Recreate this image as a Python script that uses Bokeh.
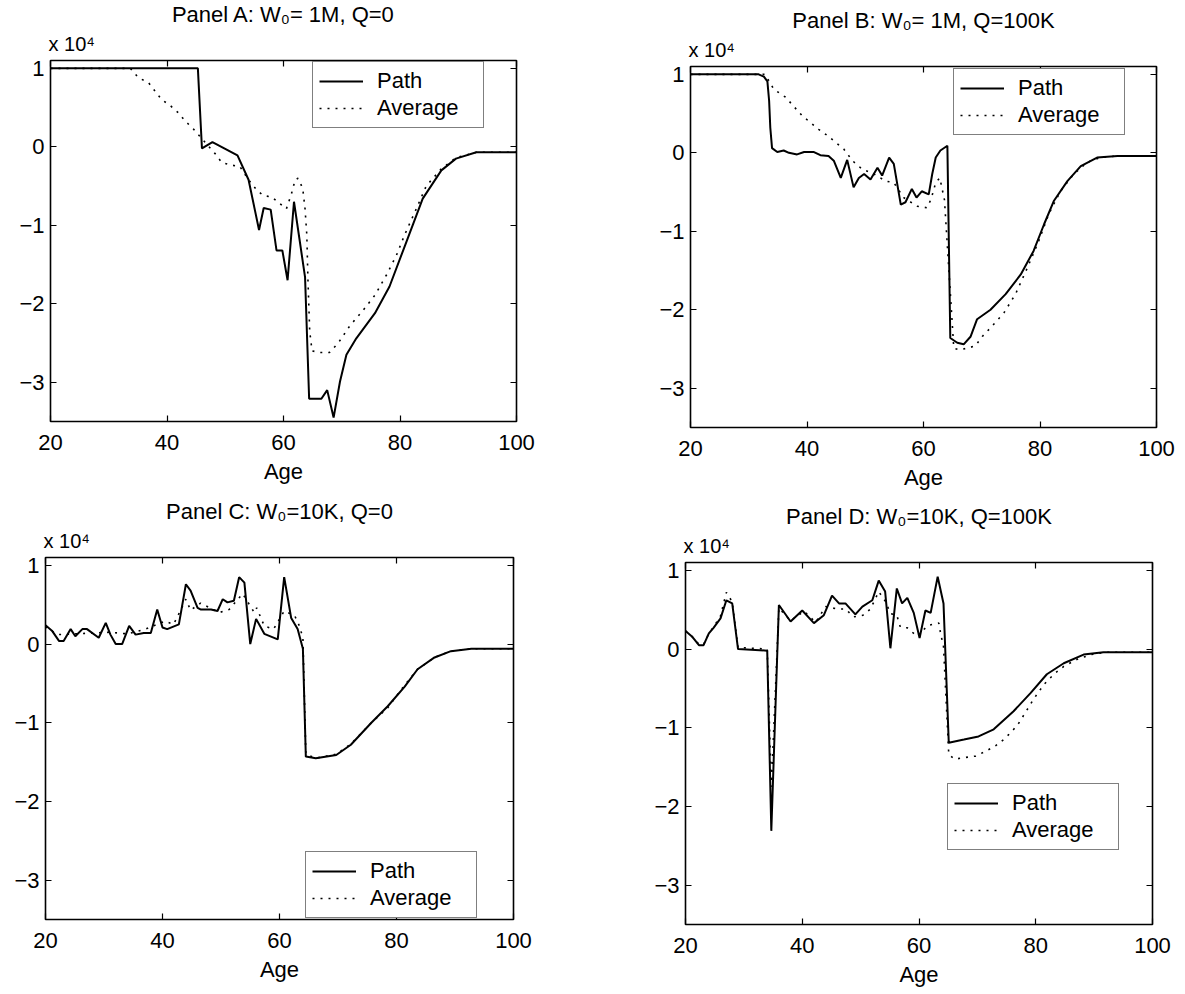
from bokeh.plotting import figure
from bokeh.layouts import row, column
from bokeh.models import Legend, LegendItem, LinearAxis, FixedTicker, Range1d, Title
from bokeh.embed import file_html
from bokeh.resources import INLINE

FONT = "Liberation Sans"

x_ticks = [20, 40, 60, 80, 100]
y_ticks = [-3, -2, -1, 0, 1]
y_tick_labels = {-3: "\u22123", -2: "\u22122", -1: "\u22121", 0: "0", 1: "1"}
x_label = "Age"
scale_label = "x 10\u2074"
series_names = ["Path", "Average"]

titles = ["Panel A: W\u2080= 1M, Q=0", "Panel B: W\u2080= 1M, Q=100K",
          "Panel C: W\u2080=10K, Q=0", "Panel D: W\u2080=10K, Q=100K"]

# ---- Panel A (values in units of 10^4) ----
a_path_age = [20, 45.3, 46.0, 47.8, 49.1, 52.1, 54.0, 55.8, 56.6, 57.8, 58.8, 59.8, 60.7, 61.8, 63.7,
              64.4, 66.5, 67.5, 68.6, 69.7, 70.8, 72.5, 75.7, 78.2, 81.1, 83.9, 87.1, 89.6, 93.1, 100]
a_path_val = [1.0, 1.0, -0.02, 0.06, 0.01, -0.11, -0.42, -1.06, -0.78, -0.80, -1.32, -1.32, -1.70, -0.70, -1.66,
              -3.21, -3.21, -3.10, -3.45, -2.99, -2.65, -2.44, -2.12, -1.78, -1.21, -0.66, -0.30, -0.15, -0.07, -0.07]
a_avg_age = [20, 33.7, 35.1, 36.8, 39.1, 40.5, 42.0, 43.1, 44.5, 48.3, 49.4, 50.8, 52.5, 54.0, 55.4,
             56.5, 58.0, 59.3, 60.5, 61.4, 62.0, 62.5, 63.3, 63.7, 64.0, 64.2, 64.5, 64.9, 66.2, 67.9,
             69.4, 71.4, 73.7, 75.7, 77.7, 79.4, 80.8, 82.8, 84.5, 87.1, 89.6, 93.1, 100]
a_avg_val = [1.0, 1.0, 0.88, 0.82, 0.60, 0.53, 0.43, 0.33, 0.23, -0.09, -0.20, -0.23, -0.25, -0.42, -0.55,
             -0.62, -0.64, -0.72, -0.79, -0.59, -0.42, -0.40, -0.53, -0.79, -1.12, -1.70, -2.35, -2.60, -2.62, -2.62,
             -2.50, -2.28, -2.08, -1.89, -1.63, -1.38, -1.12, -0.79, -0.50, -0.28, -0.14, -0.07, -0.07]

# ---- Panel B ----
b_path_age = [20, 31.7, 32.6, 33.2, 33.5, 33.7, 34.0, 34.9, 36.0, 36.9, 38.3, 39.5, 41.2, 42.3, 43.7,
              44.6, 45.8, 46.9, 48.0, 48.9, 49.8, 50.9, 52.1, 52.9, 54.1, 54.9, 56.1, 56.9, 58.0, 58.8,
              59.7, 60.9, 61.5, 62.1, 62.9, 64.1, 64.6, 65.8, 66.9, 68.1, 69.2, 71.5, 74.1, 76.7, 78.9,
              80.7, 82.4, 84.7, 87.0, 89.8, 93.3, 100]
b_path_val = [1.0, 1.0, 0.97, 0.91, 0.66, 0.32, 0.06, 0.01, 0.03, 0.0, -0.02, 0.01, 0.01, -0.03, -0.04,
              -0.10, -0.32, -0.09, -0.44, -0.32, -0.27, -0.34, -0.19, -0.29, -0.06, -0.14, -0.66, -0.63, -0.46, -0.57,
              -0.49, -0.53, -0.27, -0.06, 0.03, 0.09, -2.36, -2.42, -2.44, -2.34, -2.12, -2.00, -1.80, -1.55, -1.25,
              -0.91, -0.61, -0.36, -0.17, -0.06, -0.04, -0.04]
b_avg_age = [20, 32.8, 34.3, 36.3, 39.2, 42.0, 43.5, 46.3, 47.8, 49.5, 51.5, 53.5, 54.9, 56.6, 58.9,
             60.6, 61.3, 62.1, 62.8, 63.6, 65.2, 66.1, 67.5, 68.9, 70.1, 71.5, 73.8, 75.8, 77.8, 79.8,
             81.5, 83.5, 85.8, 88.1, 90.4, 93.3, 100]
b_avg_val = [1.0, 1.0, 0.81, 0.71, 0.47, 0.30, 0.22, 0.05, -0.10, -0.21, -0.27, -0.36, -0.38, -0.57, -0.68,
             -0.70, -0.59, -0.38, -0.32, -0.60, -2.49, -2.51, -2.49, -2.46, -2.34, -2.23, -2.04, -1.80, -1.47, -1.12,
             -0.78, -0.49, -0.27, -0.12, -0.06, -0.04, -0.04]

# ---- Panel C ----
c_path_age = [20, 21.1, 22.3, 23.1, 24.3, 25.1, 26.3, 27.1, 29.1, 30.3, 31.1, 32.0, 33.1, 34.3, 35.4,
              36.8, 38.0, 39.1, 40.0, 40.8, 42.8, 44.0, 44.8, 46.0, 46.5, 48.3, 49.4, 50.3, 51.1, 52.2,
              53.1, 54.0, 55.0, 56.0, 57.4, 59.7, 60.8, 62.0, 63.1, 64.0, 64.5, 66.2, 69.7, 72.2, 75.7,
              78.5, 81.4, 83.6, 86.5, 89.3, 92.8, 100]
c_path_val = [0.24, 0.17, 0.04, 0.04, 0.19, 0.10, 0.19, 0.19, 0.08, 0.27, 0.12, 0.0, 0.0, 0.23, 0.12,
              0.14, 0.14, 0.44, 0.21, 0.19, 0.25, 0.76, 0.68, 0.46, 0.44, 0.44, 0.42, 0.57, 0.53, 0.55,
              0.85, 0.78, 0.0, 0.32, 0.13, 0.06, 0.85, 0.33, 0.19, -0.06, -1.43, -1.45, -1.41, -1.28, -1.00,
              -0.79, -0.54, -0.32, -0.17, -0.09, -0.06, -0.06]
c_avg_age = [20, 22.0, 25.0, 28.0, 31.0, 34.0, 37.1, 40.4, 41.9, 44.0, 44.8, 46.5, 49.7, 51.4, 53.7,
             55.7, 56.1, 57.4, 59.0, 60.8, 62.6, 63.4, 64.0, 64.5, 66.2, 69.7, 72.2, 75.7, 78.5, 81.4,
             83.6, 86.5, 89.3, 92.8, 100]
c_avg_val = [0.22, 0.12, 0.13, 0.14, 0.15, 0.13, 0.19, 0.29, 0.25, 0.57, 0.43, 0.52, 0.40, 0.44, 0.64,
             0.40, 0.46, 0.23, 0.19, 0.42, 0.36, 0.23, 0.08, -1.40, -1.45, -1.40, -1.27, -1.00, -0.81, -0.52,
             -0.32, -0.17, -0.09, -0.06, -0.06]

# ---- Panel D ----
d_path_age = [20, 21.1, 22.3, 23.1, 24.0, 24.8, 26.0, 27.0, 28.0, 29.0, 34.0, 34.7, 36.0, 38.0, 40.0,
              42.0, 43.7, 45.1, 46.3, 47.4, 49.1, 50.3, 52.0, 53.1, 54.2, 55.1, 56.2, 57.1, 58.0, 59.1,
              60.1, 61.1, 62.0, 63.2, 64.2, 65.1, 67.7, 70.2, 72.8, 76.2, 79.1, 81.9, 84.8, 88.2, 91.6, 100]
d_path_val = [0.23, 0.16, 0.05, 0.05, 0.20, 0.27, 0.39, 0.62, 0.58, 0.0, -0.02, -2.31, 0.56, 0.35, 0.49,
              0.33, 0.43, 0.68, 0.58, 0.58, 0.44, 0.54, 0.62, 0.87, 0.73, 0.01, 0.77, 0.58, 0.65, 0.46,
              0.14, 0.49, 0.46, 0.92, 0.58, -1.19, -1.15, -1.11, -1.02, -0.79, -0.56, -0.32, -0.18, -0.07, -0.04, -0.04]
d_avg_age = [20, 21.1, 22.3, 23.1, 24.0, 24.8, 26.0, 27.0, 28.0, 29.0, 34.0, 34.7, 36.0, 38.0, 40.3,
             42.3, 44.0, 46.0, 47.4, 48.8, 50.4, 51.7, 53.1, 54.3, 55.1, 56.2, 56.8, 58.0, 59.7, 61.5,
             63.4, 63.7, 64.2, 65.1, 66.1, 67.7, 69.7, 71.4, 73.1, 74.5, 76.0, 77.1, 78.2, 79.6, 81.4,
             83.1, 84.8, 87.1, 89.5, 92.0, 100]
d_avg_val = [0.23, 0.16, 0.06, 0.06, 0.20, 0.28, 0.42, 0.72, 0.60, 0.02, 0.0, -1.75, 0.52, 0.36, 0.48,
             0.34, 0.54, 0.51, 0.51, 0.41, 0.43, 0.51, 0.73, 0.60, 0.45, 0.43, 0.28, 0.27, 0.16, 0.30,
             0.33, 0.20, 0.03, -1.34, -1.40, -1.38, -1.36, -1.30, -1.23, -1.15, -1.04, -0.94, -0.81, -0.64, -0.45,
             -0.32, -0.22, -0.13, -0.07, -0.04, -0.04]

for a, b in [(a_path_age, a_path_val), (a_avg_age, a_avg_val), (b_path_age, b_path_val), (b_avg_age, b_avg_val),
             (c_path_age, c_path_val), (c_avg_age, c_avg_val), (d_path_age, d_path_val), (d_avg_age, d_avg_val)]:
    assert len(a) == len(b), (len(a), len(b))

X_MIN, X_MAX = 20, 100
Y_MIN, Y_MAX = -3.5, 1.1


def make_panel(title, path_age, path_val, avg_age, avg_val, legend_xy, border, frame, top_margin):
    left, right, top, bottom = border
    fw, fh = frame
    p = figure(width=left + fw + right, height=top + fh + bottom,
               min_border_left=left, min_border_right=right,
               min_border_top=top, min_border_bottom=bottom,
               x_range=Range1d(X_MIN, X_MAX), y_range=Range1d(Y_MIN, Y_MAX),
               output_backend="svg", toolbar_location=None, title=None)
    p.margin = (top_margin, 0, 0, 0)
    p.background_fill_color = "white"
    p.border_fill_color = "white"
    p.outline_line_color = "black"
    p.outline_line_width = 1.6
    p.xgrid.visible = False
    p.ygrid.visible = False

    for ax in p.xaxis:
        ax.ticker = FixedTicker(ticks=x_ticks)
        ax.axis_label = x_label
        ax.axis_label_text_font = FONT
        ax.axis_label_text_font_size = "22px"
        ax.axis_label_text_font_style = "normal"
        ax.axis_label_text_color = "black"
        ax.axis_label_standoff = 6
        ax.major_label_standoff = 13
    for ax in p.yaxis:
        ax.ticker = FixedTicker(ticks=y_ticks)
        ax.major_label_overrides = y_tick_labels
        ax.major_label_standoff = 6
    for ax in list(p.xaxis) + list(p.yaxis):
        ax.axis_line_color = None
        ax.major_tick_in = 6
        ax.major_tick_out = 0
        ax.major_tick_line_color = "black"
        ax.major_tick_line_width = 1.2
        ax.minor_tick_line_color = None
        ax.major_label_text_font = FONT
        ax.major_label_text_font_size = "22px"
        ax.major_label_text_color = "black"

    # box ticks on the top and right edges (minor ticks only, so no labels are drawn)
    top_axis = LinearAxis(ticker=FixedTicker(ticks=[], minor_ticks=x_ticks), axis_line_color=None,
                          major_tick_line_color=None, minor_tick_in=6, minor_tick_out=0,
                          major_label_standoff=0, minor_tick_line_color="black", minor_tick_line_width=1.2)
    right_axis = LinearAxis(ticker=FixedTicker(ticks=[], minor_ticks=y_ticks), axis_line_color=None,
                            major_tick_line_color=None, minor_tick_in=6, minor_tick_out=0,
                            major_label_standoff=0, minor_tick_line_color="black", minor_tick_line_width=1.2)
    p.add_layout(top_axis, "above")
    p.add_layout(right_axis, "right")

    p.add_layout(Title(text=scale_label, align="left", offset=-2, standoff=11,
                       text_font=FONT, text_font_size="20px", text_font_style="normal",
                       text_color="black"), "above")
    p.add_layout(Title(text=title, align="center", standoff=-2,
                       text_font=FONT, text_font_size="22px", text_font_style="normal",
                       text_color="black"), "above")

    r_path = p.line(path_age, path_val, line_color="black", line_width=2)
    r_avg = p.line(avg_age, avg_val, line_color="black", line_width=1.6, line_dash="2 6")

    leg = Legend(items=[LegendItem(label=series_names[0], renderers=[r_path]),
                        LegendItem(label=series_names[1], renderers=[r_avg])],
                 location=legend_xy, margin=0, padding=6, spacing=1,
                 glyph_width=44, glyph_height=22, label_height=22, label_width=100,
                 label_standoff=14, label_text_font=FONT, label_text_font_size="22px",
                 label_text_color="black", border_line_color="black", border_line_width=1.3,
                 background_fill_color="white", background_fill_alpha=1)
    p.add_layout(leg)
    return p


pA = make_panel(titles[0], a_path_age, a_path_val, a_avg_age, a_avg_val, (262, 293),
                (50, 112, 59, 70), (466, 362), 0)
pB = make_panel(titles[1], b_path_age, b_path_val, b_avg_age, b_avg_val, (263, 292),
                (62, 20, 59, 70), (466, 362), 6)
pC = make_panel(titles[2], c_path_age, c_path_val, c_avg_age, c_avg_val, (260, 1),
                (45, 110, 60, 70), (468, 362), 0)
pD = make_panel(titles[3], d_path_age, d_path_val, d_avg_age, d_avg_val, (262, 74),
                (62, 20, 60, 70), (467, 362), 5)

layout = column(row(pA, pB), row(pC, pD))
open("out.html", "w").write(file_html(layout, INLINE))
